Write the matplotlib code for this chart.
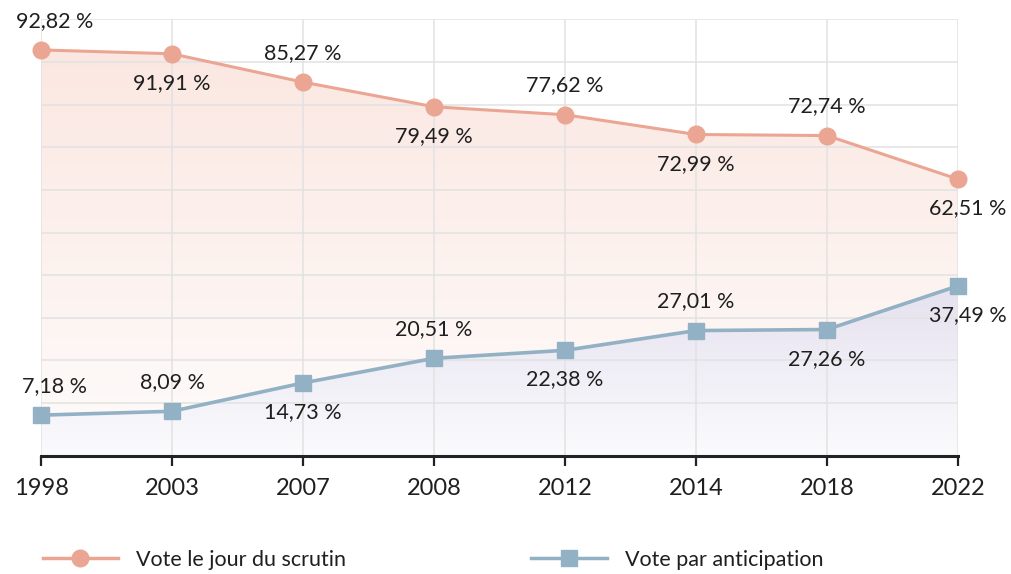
import numpy as np
import matplotlib
matplotlib.use('Agg')
import matplotlib.pyplot as plt
from matplotlib.lines import Line2D
from matplotlib.colors import to_rgb

plt.rcParams['font.family'] = ['Lato', 'DejaVu Sans']

years = ['1998', '2003', '2007', '2008', '2012', '2014', '2018', '2022']
jour = [92.82, 91.91, 85.27, 79.49, 77.62, 72.99, 72.74, 62.51]
anticip = [7.18, 8.09, 14.73, 20.51, 22.38, 27.01, 27.26, 37.49]
# label above (+1) or below (-1) each point
jour_pos = [1, -1, 1, -1, 1, -1, 1, -1]
anticip_pos = [1, 1, -1, 1, -1, 1, -1, -1]

RED = '#eaa693'
BLUE = '#93b1c4'
TXT = '#1f1f1f'
YMIN, YMAX = -2.4, 100

fig = plt.figure(figsize=(10.11, 5.74), dpi=100)
ax = fig.add_axes([41/1011, 1-456/574, (958-41)/1011, (456-19.3)/574])
x = np.arange(len(years))
ax.set_xlim(0, len(years)-1)
ax.set_ylim(YMIN, YMAX)


def grad_fill(xs, ys, top_col, bot_col, z):
    poly = ax.fill_between(xs, ys, YMIN, color='none', lw=0, zorder=z)
    n = 256
    t = np.linspace(0, 1, n)[:, None]  # 0 at top
    c1, c2 = np.array(to_rgb(top_col)), np.array(to_rgb(bot_col))
    img = (c1 * (1-t) + c2 * t)[:, None, :].repeat(2, axis=1)
    im = ax.imshow(img, extent=[xs[0], xs[-1], YMIN, max(ys)], aspect='auto',
                   origin='upper', zorder=z, interpolation='bilinear')
    im.set_clip_path(poly.get_paths()[0], transform=ax.transData)


grad_fill(x, jour, '#fbe7e1', '#fefcfb', 1)
grad_fill(x, anticip, '#e5e1ef', '#fbfbfd', 1.5)

ax.set_axisbelow(False)
ax.set_yticks(np.arange(10, 101, 10))
ax.set_xticks(x)
ax.grid(True, color='#e2e2e2', lw=1.1)
ax.set_yticklabels([])
ax.tick_params(axis='y', length=0)
ax.set_xticklabels(years, fontsize=17, color=TXT)
ax.tick_params(axis='x', length=7, width=1.6, color='#222222', pad=9)
for s in ['top', 'right', 'left']:
    ax.spines[s].set_visible(False)
ax.spines['bottom'].set_linewidth(2.2)
ax.spines['bottom'].set_color('#222222')
ax.spines['bottom'].set_zorder(6)

ax.plot(x, jour, color=RED, lw=2.2, marker='o', ms=12, zorder=5, clip_on=False)
ax.plot(x, anticip, color=BLUE, lw=2.6, marker='s', ms=12, zorder=5, clip_on=False)


def fmt(v):
    return f'{v:.2f}'.replace('.', ',') + ' %'


def labels(vals, pos):
    for i, (v, p) in enumerate(zip(vals, pos)):
        dx = 10 if i == 0 else (7 if i == len(vals)-1 else 0)
        ax.annotate(fmt(v), (x[i], v), xytext=(dx, 21*p), textcoords='offset points',
                    ha='center', va='center', fontsize=15.5, color=TXT, zorder=7,
                    annotation_clip=False)


labels(jour, jour_pos)
labels(anticip, anticip_pos)

handles = [Line2D([], [], color=RED, lw=2.5, marker='o', ms=12),
           Line2D([], [], color=BLUE, lw=2.5, marker='s', ms=12)]
fig.legend(handles, ['Vote le jour du scrutin', 'Vote par anticipation'],
           loc='center left', bbox_to_anchor=(0.023, 1-560/574), ncol=2, frameon=False,
           fontsize=15.5, handlelength=3.5, columnspacing=8.6, handletextpad=0.85,
           labelcolor=TXT)

fig.savefig('out.png', dpi=100)
